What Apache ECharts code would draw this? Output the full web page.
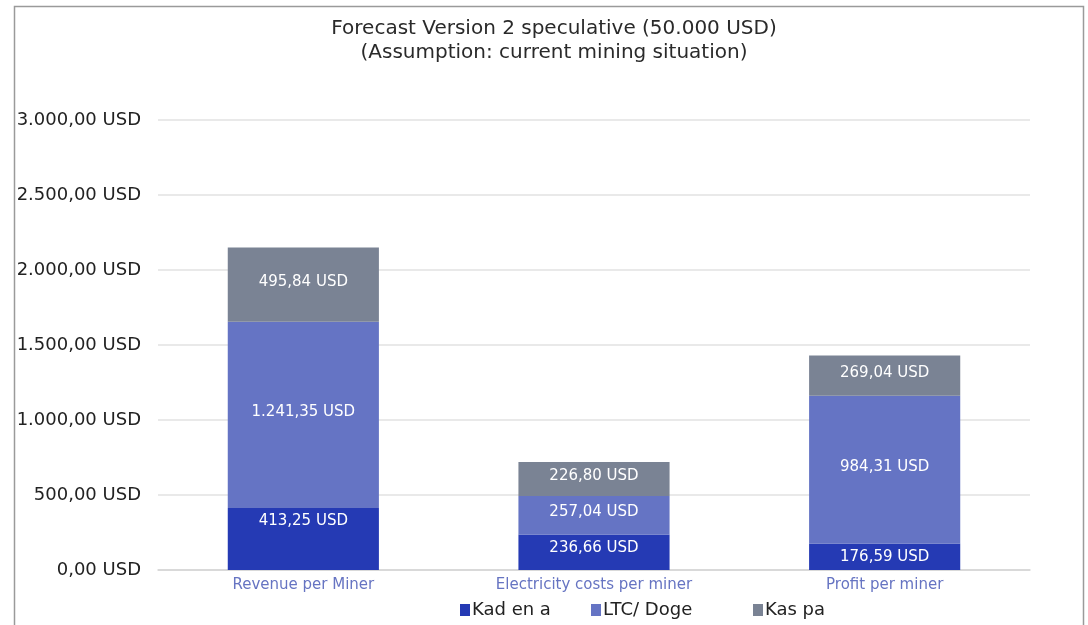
<!DOCTYPE html>
<html>
<head>
<meta charset="utf-8">
<script src="https://cdn.jsdelivr.net/npm/echarts@6/dist/echarts.min.js"></script>
<style>
  html, body { margin: 0; padding: 0; background: #fff; }
  #chart { width: 1088px; height: 625px; }
</style>
</head>
<body>
<div id="chart"></div>
<script>
const categories = ['Revenue per Miner', 'Electricity costs per miner', 'Profit per miner']
const kadena = [413.25, 236.66, 176.59]
const ltcDoge = [1241.35, 257.04, 984.31]
const kaspa = [495.84, 226.80, 269.04]
const seriesNames = ['Kad en a', 'LTC/ Doge', 'Kas pa']
const colors = ['#253ab4', '#6574c4', '#7a8394']

// 1234.5 -> "1.234,50 USD"
function fmt(v) {
  const parts = v.toFixed(2).split('.')
  const int = parts[0].replace(/\B(?=(\d{3})+(?!\d))/g, '.')
  return int + ',' + parts[1] + ' USD'
}

const chart = echarts.init(document.getElementById('chart'))

const labelStyle = {
  show: true,
  color: '#fff',
  fontSize: 15,
  fontFamily: 'DejaVu Sans',
  offset: [0, -3],
  formatter: (p) => fmt(p.value)
}

// legend items are not evenly spaced in the original, so one legend per item
const legendLefts = [460, 591, 753]
const legends = seriesNames.map((name, i) => ({
  data: [name],
  left: legendLefts[i],
  top: 601,
  itemWidth: 10,
  itemHeight: 12,
  icon: 'rect',
  padding: 0,
  textStyle: { fontFamily: 'DejaVu Sans', fontSize: 18, color: '#222', padding: [2, 0, 0, -3] }
}))

chart.setOption({
  animation: false,
  color: colors,
  graphic: [{
    type: 'rect',
    shape: { x: 14.5, y: 6.5, width: 1069, height: 640 },
    style: { fill: 'none', stroke: '#9a9a9a', lineWidth: 1.5 },
    silent: true
  }],
  title: {
    text: 'Forecast Version 2 speculative (50.000 USD)\n(Assumption: current mining situation)',
    left: 549,
    textAlign: 'center',
    top: 12,
    textStyle: {
      fontFamily: 'DejaVu Sans',
      fontWeight: 'normal',
      fontSize: 20,
      lineHeight: 24,
      color: '#2a2a2a'
    }
  },
  legend: legends,
  grid: { left: 158, right: 58, top: 120, bottom: 55 },
  xAxis: {
    type: 'category',
    data: categories,
    axisTick: { show: false },
    axisLine: { lineStyle: { color: '#d4d4d4', width: 1.5 } },
    axisLabel: { color: '#6674c2', fontSize: 15, fontFamily: 'DejaVu Sans', margin: 8 }
  },
  yAxis: {
    type: 'value',
    min: 0,
    max: 3000,
    interval: 500,
    axisLine: { show: false },
    axisTick: { show: false },
    splitLine: { lineStyle: { color: '#e2e2e2', width: 1.5 } },
    axisLabel: {
      margin: 17,
      color: '#222',
      fontSize: 18,
      fontFamily: 'DejaVu Sans',
      verticalAlign: 'middle',
      padding: [0, 0, 5, 0],
      formatter: (v) => fmt(v)
    }
  },
  series: [
    {
      name: seriesNames[0], type: 'bar', stack: 'a', data: kadena, barWidth: '52%',
      label: Object.assign({}, labelStyle, { position: 'insideTop', distance: 6, offset: [0, 0] })
    },
    { name: seriesNames[1], type: 'bar', stack: 'a', data: ltcDoge, label: labelStyle },
    { name: seriesNames[2], type: 'bar', stack: 'a', data: kaspa, label: labelStyle }
  ]
})
</script>
</body>
</html>
